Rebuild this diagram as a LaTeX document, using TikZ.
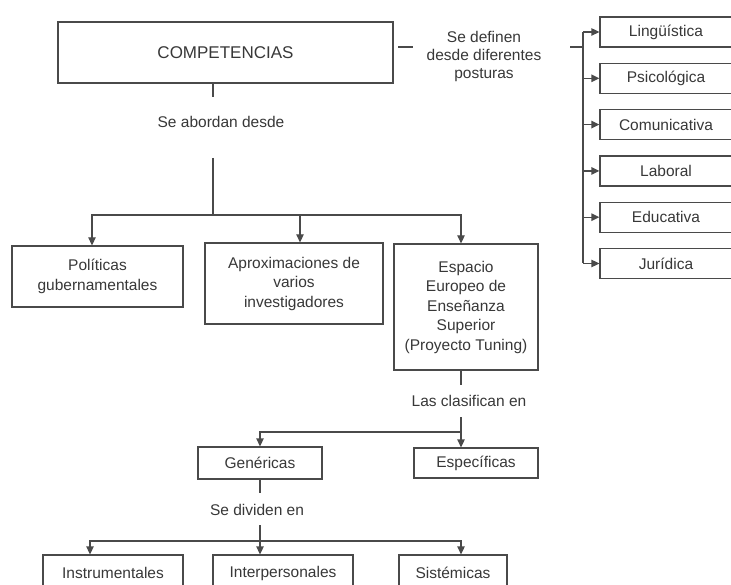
\documentclass[tikz,border=0pt]{standalone}
\usepackage{fontspec}
\setmainfont{Liberation Sans}
\usetikzlibrary{arrows.meta}

\definecolor{inkgray}{HTML}{383838}
\definecolor{rulegray}{HTML}{4A4A4A}

\tikzset{
  box/.style={draw=rulegray, line width=1.3pt, fill=white, text=inkgray, align=center,
    inner sep=2pt, font=\fontsize{15.5}{19.5}\selectfont},
  lbl/.style={text=inkgray, align=center, inner sep=0pt, font=\fontsize{15.5}{18}\selectfont},
  ln/.style={draw=rulegray, line width=1.3pt},
  arr/.style={ln, -{Triangle[length=8pt,width=7.5pt]}},
}

\begin{document}
\begin{tikzpicture}[x=1pt,y=-1pt]

    \fill[white] (0,0) rectangle (731,585);
    \useasboundingbox (0,0) rectangle (731,585);

    \node[box, minimum width=335pt, minimum height=61pt, font=\fontsize{17}{20}\selectfont] (comp) at (225.5,52.5) {COMPETENCIAS};

    % posturas
    \node[lbl] (defi) at (484,56) {Se definen\\desde diferentes\\posturas};
    \coordinate (d0) at (398,47);
    \coordinate (d1) at (413,47);
    \coordinate (d2) at (570,47);
    \coordinate (bar) at (583,47);
    \draw[ln] (d0) -- (d1);
    \draw[ln] (d2) -- (bar);

    \foreach \nm/\txt [count=\i from 0] in {ling/Lingüística, psic/Psicológica, comu/Comunicativa, labo/Laboral, educ/Educativa, juri/Jurídica}
      \node[box, minimum width=132pt, minimum height=30pt] (\nm) at (666,{32+46.3*\i}) {\txt};

    \draw[ln] (bar |- ling.west) -- (bar |- juri.west);
    \foreach \nm in {ling,psic,comu,labo,educ,juri}
      \draw[arr] (bar |- \nm.west) -- (\nm.west);

    % se abordan desde
    \coordinate (ab1) at (213,97);
    \node[lbl] (abor) at (221,122) {Se abordan desde};
    \coordinate (ab2) at (213,158);
    \coordinate (j1) at (213,215);
    \draw[ln] (comp.south -| ab1) -- (ab1);
    \draw[ln] (ab2) -- (j1);

    \node[box, minimum width=171pt, minimum height=61pt] (poli) at (97.5,276.5) {Políticas\\gubernamentales};
    \node[box, minimum width=178pt, minimum height=81pt] (apro) at (294,283.5) {Aproximaciones de\\varios\\investigadores};
    \node[box, minimum width=144pt, minimum height=126pt] (espa) at (466,307) {Espacio\\Europeo de\\Enseñanza\\Superior\\(Proyecto Tuning)};

    \draw[arr] (j1) -| ([xshift=-5.5pt]poli.north);
    \draw[arr] (j1) -| ([xshift=6pt]apro.north);
    \draw[arr] (j1) -| ([xshift=-5pt]espa.north);

    % clasificacion
    \coordinate (cl1) at (461,385);
    \node[lbl] (clas) at (469,401) {Las clasifican en};
    \coordinate (cl2) at (461,417);
    \coordinate (j2) at (461,432);
    \draw[ln] (espa.south -| cl1) -- (cl1);
    \draw[ln] (cl2) -- (j2);

    \node[box, minimum width=124pt, minimum height=32pt] (gene) at (260,463) {Genéricas};
    \node[box, minimum width=124pt, minimum height=30pt] (espe) at (476,463) {Específicas};

    \draw[arr] (j2) -| (gene.north);
    \draw[arr] (j2) -- (espe.north -| j2);

    % division
    \coordinate (dv1) at (260,493);
    \node[lbl] (divi) at (257,510) {Se dividen en};
    \coordinate (dv2) at (260,525);
    \coordinate (j3) at (260,541);
    \draw[ln] (gene.south) -- (dv1);
    \draw[ln] (dv2) -- (j3);

    \node[box, minimum width=140pt, minimum height=36pt] (inst) at (113,573) {Instrumentales};
    \node[box, minimum width=140pt, minimum height=36pt] (inte) at (283,573) {Interpersonales};
    \node[box, minimum width=108pt, minimum height=36pt] (sist) at (453,573) {Sistémicas};

    \draw[arr] (j3) -| ([xshift=-23pt]inst.north);
    \draw[arr] (j3) -- ([xshift=-23pt]inte.north);
    \draw[arr] (j3) -| ([xshift=8pt]sist.north);

\end{tikzpicture}
\end{document}
